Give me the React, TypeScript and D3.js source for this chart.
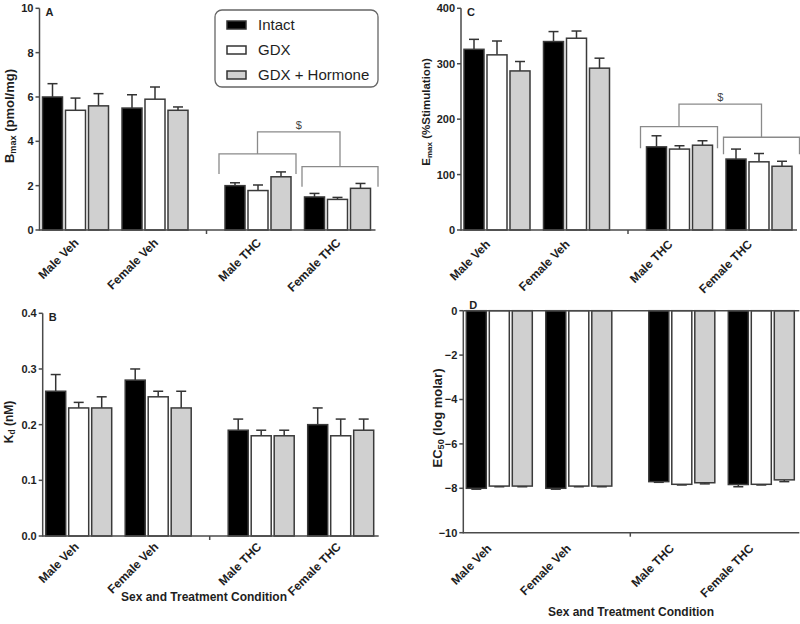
import React from "react";
import * as d3 from "d3";

const groups = ["Male Veh", "Female Veh", "Male THC", "Female THC"];
const series = ["Intact", "GDX", "GDX + Hormone"];
const seriesFill = ["#000000", "#ffffff", "#d0d0d0"];

// Panel A: Bmax (pmol/mg) — rows = groups, cols = series
const bmaxMean = [
  [6.0, 5.4, 5.6],
  [5.5, 5.9, 5.4],
  [2.0, 1.78, 2.4],
  [1.49, 1.38, 1.88],
];
const bmaxErr = [
  [0.6, 0.55, 0.55],
  [0.6, 0.55, 0.15],
  [0.13, 0.25, 0.22],
  [0.16, 0.09, 0.22],
];
const bmaxTicks = [0, 2, 4, 6, 8, 10];

// Panel B: Kd (nM)
const kdMean = [
  [0.26, 0.23, 0.23],
  [0.28, 0.25, 0.23],
  [0.19, 0.18, 0.18],
  [0.2, 0.18, 0.19],
];
const kdErr = [
  [0.03, 0.01, 0.02],
  [0.02, 0.01, 0.03],
  [0.02, 0.01, 0.01],
  [0.03, 0.03, 0.02],
];
const kdTicks = [0, 0.1, 0.2, 0.3, 0.4];

// Panel C: Emax (%Stimulation)
const emaxMean = [
  [326, 316, 287],
  [340, 346, 292],
  [150, 146, 153],
  [128, 123, 115],
];
const emaxErr = [
  [18, 25, 17],
  [18, 13, 18],
  [20, 6, 8],
  [18, 15, 9],
];
const emaxTicks = [0, 100, 200, 300, 400];

// Panel D: EC50 (log molar)
const ec50Mean = [
  [-8.0, -7.9, -7.9],
  [-8.0, -7.9, -7.9],
  [-7.7, -7.82, -7.75],
  [-7.83, -7.82, -7.62],
];
const ec50Err = [
  [0.04, 0.03, 0.03],
  [0.04, 0.03, 0.03],
  [0.03, 0.03, 0.05],
  [0.1, 0.03, 0.08],
];
const ec50Ticks = [-10, -8, -6, -4, -2, 0];

// significance brackets (data units): [maleLevel, maleDrop, femaleLevel, femaleDrop, topLevel]
const bmaxBracket = [3.43, 2.53, 2.86, 1.95, 4.43];
const emaxBracket = [186.5, 147.5, 167.3, 136.6, 227];

const FONT = "'Liberation Sans', Arial, Helvetica, sans-serif";
const AXIS = "#4a4a4a";
const TXT = "#1e1e1e";

type Cfg = {
  axisX: number;
  yTop: number;
  yBottom: number;
  domain: [number, number];
  ticks: number[];
  fmt: (v: number) => string;
  mean: number[][];
  err: number[][];
  letter: string;
  letterY: number;
  labelMain: string;
  labelSub: string;
  labelRest: string;
  labelX: number;
  labelY: number;
  labelSize: number;
  catDx: number;
  catDy: number;
  bracket?: number[];
  title?: { x: number; y: number };
};

function Panel({ c }: { c: Cfg }) {
  const y = d3.scaleLinear().domain(c.domain).range([c.yBottom, c.yTop]);
  const groupX = (i: number) => c.axisX + 3 + i * 79.5 + (i >= 2 ? 23.5 : 0);
  const inner = d3.scaleBand<string>().domain(series).range([0, 66]).paddingInner(0.13);
  const bw = inner.bandwidth();
  const axisEnd = c.axisX + 336;
  const base = y(0);
  const xAxisY = y(c.domain[0]);
  const els: React.ReactNode[] = [];

  groups.forEach((g, gi) => {
    series.forEach((s, si) => {
      const v = c.mean[gi][si];
      const e = c.err[gi][si];
      const x0 = groupX(gi) + (inner(s) as number);
      const yv = y(v);
      const ye = y(v + Math.sign(v) * e);
      const cx = x0 + bw / 2;
      els.push(
        <g key={`b${gi}${si}`}>
          <line x1={cx} x2={cx} y1={yv} y2={ye} stroke="#333" strokeWidth={1.5} />
          <line x1={cx - 5} x2={cx + 5} y1={ye} y2={ye} stroke="#333" strokeWidth={1.5} />
          <rect
            x={x0}
            y={Math.min(yv, base)}
            width={bw}
            height={Math.abs(yv - base)}
            fill={seriesFill[si]}
            stroke="#3a3a3a"
            strokeWidth={1.5}
          />
        </g>
      );
    });
  });

  let brackets: React.ReactNode = null;
  if (c.bracket) {
    const [ml, md, fl, fd, tl] = c.bracket;
    const mx0 = groupX(2) - 6, mx1 = groupX(2) + 66 + 5;
    const fx0 = groupX(3) - 2.5, fx1 = groupX(3) + 66 + 7.5;
    const mc = (mx0 + mx1) / 2, fc = (fx0 + fx1) / 2;
    brackets = (
      <g>
        <g fill="none" stroke="#8a8a8a" strokeWidth={1.3}>
          <path d={`M${mx0},${y(md)}V${y(ml)}H${mx1}V${y(md)}`} />
          <path d={`M${fx0},${y(fd)}V${y(fl)}H${fx1}V${y(fd)}`} />
          <path d={`M${mc},${y(ml)}V${y(tl)}H${fc}V${y(fl)}`} />
        </g>
        <text x={(mc + fc) / 2} y={y(tl) - 3} fill="#444" fontSize={11} textAnchor="middle">$</text>
      </g>
    );
  }

  return (
    <g fontFamily={FONT}>
      {els}
      {brackets}
      <line x1={c.axisX} x2={axisEnd} y1={xAxisY} y2={xAxisY} stroke={AXIS} strokeWidth={1.5} />
      {c.domain[0] < 0 && (
        <line x1={c.axisX} x2={axisEnd} y1={base} y2={base} stroke={AXIS} strokeWidth={1.5} />
      )}
      <line x1={c.axisX + 167} x2={c.axisX + 167} y1={xAxisY} y2={xAxisY + 4} stroke={AXIS} strokeWidth={1.5} />
      <line x1={c.axisX} x2={c.axisX} y1={y(c.domain[0]) + 0.75} y2={y(c.domain[1])} stroke={AXIS} strokeWidth={1.5} />
      {c.ticks.map((t) => (
        <g key={t}>
          <line x1={c.axisX - 4} x2={c.axisX} y1={y(t)} y2={y(t)} stroke={AXIS} strokeWidth={1.5} />
          <text x={c.axisX - 6} y={y(t)} dy="0.36em" textAnchor="end" fontSize={11} fontWeight="bold" fill={TXT}>
            {c.fmt(t)}
          </text>
        </g>
      ))}
      <text x={c.axisX + 6} y={c.letterY} fontSize={11} fontWeight="bold" fill={TXT}>{c.letter}</text>
      {groups.map((g, gi) => {
        const gc = groupX(gi) + 33;
        return (
          <text
            key={g}
            transform={`translate(${gc + c.catDx},${xAxisY + c.catDy}) rotate(-45)`}
            textAnchor="end"
            fontSize={12}
            fontWeight="bold"
            fill={TXT}
          >
            {g}
          </text>
        );
      })}
      <text
        transform={`translate(${c.labelX},${c.labelY}) rotate(-90)`}
        textAnchor="middle"
        fontSize={c.labelSize}
        fontWeight="bold"
        fill={TXT}
      >
        {c.labelMain}
        <tspan fontSize={c.labelSize * 0.7} dy="0.3em">{c.labelSub}</tspan>
        <tspan dy="-0.21em">{c.labelRest}</tspan>
      </text>
      {c.title && (
        <text x={c.title.x} y={c.title.y} textAnchor="middle" fontSize={12} fontWeight="bold" fill={TXT}>
          Sex and Treatment Condition
        </text>
      )}
    </g>
  );
}

const fmtInt = d3.format("d");
const fmt1 = d3.format(".1f");

const panels: Cfg[] = [
  {
    axisX: 39.5, yTop: 8.3, yBottom: 230, domain: [0, 10], ticks: bmaxTicks, fmt: fmtInt,
    mean: bmaxMean, err: bmaxErr, letter: "A", letterY: 15.5, labelMain: "B", labelSub: "max", labelRest: " (pmol/mg)",
    labelX: 13.5, labelY: 116, labelSize: 13, catDx: 4, catDy: 13.5, bracket: bmaxBracket,
  },
  {
    axisX: 42.7, yTop: 313.3, yBottom: 536, domain: [0, 0.4], ticks: kdTicks, fmt: fmt1,
    mean: kdMean, err: kdErr, letter: "B", letterY: 321, labelMain: "K", labelSub: "d", labelRest: " (nM)",
    labelX: 12.5, labelY: 422, labelSize: 12, catDx: 1, catDy: 11.5, title: { x: 204, y: 601 },
  },
  {
    axisX: 461, yTop: 8.3, yBottom: 230, domain: [0, 400], ticks: emaxTicks, fmt: fmtInt,
    mean: emaxMean, err: emaxErr, letter: "C", letterY: 15.5, labelMain: "E", labelSub: "max", labelRest: " (%Stimulation)",
    labelX: 430, labelY: 112, labelSize: 11.5, catDx: -6, catDy: 15, bracket: emaxBracket,
  },
  {
    axisX: 463.3, yTop: 310.7, yBottom: 532.7, domain: [-10, 0], ticks: ec50Ticks, fmt: fmtInt,
    mean: ec50Mean, err: ec50Err, letter: "D", letterY: 308.5, labelMain: "EC", labelSub: "50", labelRest: " (log molar)",
    labelX: 441.5, labelY: 418, labelSize: 13, catDx: -7, catDy: 16.5, title: { x: 631, y: 616 },
  },
];

function Legend() {
  return (
    <g fontFamily={FONT}>
      <rect x={215} y={10} width={163} height={77} rx={7} fill="#fff" stroke="#666" strokeWidth={1.3} />
      {series.map((s, i) => (
        <g key={s}>
          <rect x={227} y={21 + i * 25} width={19} height={8} fill={seriesFill[i]} stroke="#333" strokeWidth={1.5} />
          <text x={258} y={25 + i * 25} dy="0.35em" fontSize={15} fill={TXT}>{s}</text>
        </g>
      ))}
    </g>
  );
}

export default function App() {
  return (
    <svg width={800} height={624} style={{ position: "absolute", left: 0, top: 0, background: "#fff" }}>
      <rect width={800} height={624} fill="#fff" />
      {panels.map((p) => (
        <Panel key={p.letter} c={p} />
      ))}
      <Legend />
    </svg>
  );
}
